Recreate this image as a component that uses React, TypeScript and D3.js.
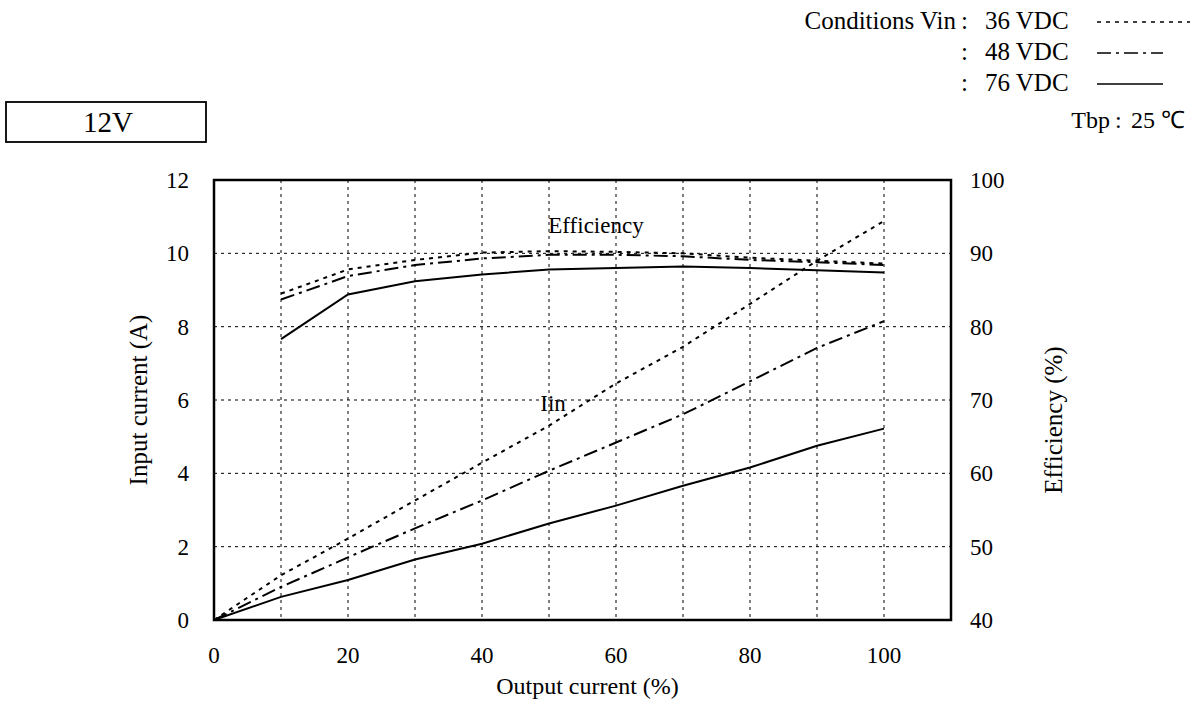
import React from "react";
import * as d3 from "d3";

const outputPct = [0, 10, 20, 30, 40, 50, 60, 70, 80, 90, 100];
const iin36 = [0, 1.22, 2.22, 3.26, 4.29, 5.3, 6.45, 7.45, 8.62, 9.8, 10.88];
const iin48 = [0, 0.9, 1.71, 2.5, 3.26, 4.07, 4.84, 5.61, 6.51, 7.42, 8.15];
const iin76 = [0, 0.63, 1.09, 1.65, 2.08, 2.63, 3.12, 3.66, 4.16, 4.75, 5.22];

const effPct = [10, 20, 30, 40, 50, 60, 70, 80, 90, 100];
const eff36 = [84.5, 87.8, 89.1, 90.1, 90.3, 90.2, 90.0, 89.4, 89.0, 88.6];
const eff48 = [83.7, 86.9, 88.4, 89.3, 89.8, 89.8, 89.6, 89.1, 88.8, 88.4];
const eff76 = [78.3, 84.4, 86.2, 87.1, 87.8, 88.0, 88.2, 88.0, 87.7, 87.4];

const xTicks = [0, 20, 40, 60, 80, 100];
const xGrid = [10, 20, 30, 40, 50, 60, 70, 80, 90, 100];
const yLeftTicks = [0, 2, 4, 6, 8, 10, 12];
const yRightTicks = [40, 50, 60, 70, 80, 90, 100];

const legendItems = ["36 VDC", "48 VDC", "76 VDC"];
const dash36 = "4,5";
const dash48 = "14,5,3,5";
const dash76 = "none";
const dashes = [dash36, dash48, dash76];
const legendLineEnds = [1190, 1163, 1163];

const FONT = "'Liberation Serif', 'Times New Roman', serif";

export default function App() {
  const W = 1199, H = 711;
  const L = 214, R = 951, T = 180, B = 620;
  const x = d3.scaleLinear().domain([0, 110]).range([L, R]);
  const yL = d3.scaleLinear().domain([0, 12]).range([B, T]);
  const yR = d3.scaleLinear().domain([40, 100]).range([B, T]);

  const lineI = d3.line<number>().x((_, i) => x(outputPct[i])).y((d) => yL(d));
  const lineE = d3.line<number>().x((_, i) => x(effPct[i])).y((d) => yR(d));

  const iinSeries = [iin36, iin48, iin76];
  const effSeries = [eff36, eff48, eff76];

  return (
    <svg width={W} height={H} style={{ position: "absolute", left: 0, top: 0, background: "#fff" }} fontFamily={FONT}>
      <rect x={0} y={0} width={W} height={H} fill="#fff" />
      {/* 12V box */}
      <rect x={6} y={102} width={200} height={40} fill="none" stroke="#000" strokeWidth={1.8} />
      <text x={108} y={132} textAnchor="middle" fontSize={29}>12V</text>

      {/* legend */}
      <text x={956} y={29} textAnchor="end" fontSize={25}>Conditions Vin</text>
      {legendItems.map((t, i) => (
        <g key={t}>
          <text x={961} y={29 + i * 31} fontSize={25}>:</text>
          <text x={985} y={29 + i * 31} fontSize={25}>{t}</text>
          <line x1={1097} x2={legendLineEnds[i]} y1={22 + i * 31} y2={22 + i * 31} stroke="#000" strokeWidth={1.5} strokeDasharray={dashes[i]} />
        </g>
      ))}
      <text x={1110} y={128} textAnchor="end" fontSize={24}>Tbp</text>
      <text x={1115} y={128} fontSize={24}>:</text>
      <text x={1131} y={128} fontSize={24}>25 ℃</text>

      {/* grid */}
      {yLeftTicks.filter((v) => v > 0 && v < 12).map((v) => (
        <line key={"h" + v} x1={L} x2={R} y1={yL(v)} y2={yL(v)} stroke="#000" strokeWidth={1} strokeDasharray="3,4" />
      ))}
      {xGrid.map((v) => (
        <line key={"v" + v} x1={x(v)} x2={x(v)} y1={T} y2={B} stroke="#000" strokeWidth={1} strokeDasharray="3,4" />
      ))}
      <rect x={L} y={T} width={R - L} height={B - T} fill="none" stroke="#000" strokeWidth={2.5} />

      {/* tick labels */}
      {yLeftTicks.map((v) => (
        <text key={"yl" + v} x={189} y={yL(v) + 8} textAnchor="end" fontSize={23}>{v}</text>
      ))}
      {yRightTicks.map((v) => (
        <text key={"yr" + v} x={970} y={yR(v) + 8} fontSize={23}>{v}</text>
      ))}
      {xTicks.map((v) => (
        <text key={"x" + v} x={x(v)} y={663} textAnchor="middle" fontSize={23}>{v}</text>
      ))}

      <text x={(L + R) / 2 + 5} y={694} textAnchor="middle" fontSize={24}>Output current (%)</text>
      <text transform={`translate(147,400) rotate(-90)`} textAnchor="middle" fontSize={25}>Input current (A)</text>
      <text transform={`translate(1062,420) rotate(-90)`} textAnchor="middle" fontSize={25}>Efficiency (%)</text>

      {/* series */}
      {iinSeries.map((s, i) => (
        <path key={"i" + i} d={lineI(s) || ""} fill="none" stroke="#000" strokeWidth={2} strokeDasharray={dashes[i]} />
      ))}
      {effSeries.map((s, i) => (
        <path key={"e" + i} d={lineE(s) || ""} fill="none" stroke="#000" strokeWidth={2} strokeDasharray={dashes[i]} />
      ))}

      <text x={596} y={233} textAnchor="middle" fontSize={23}>Efficiency</text>
      <text x={553} y={411} textAnchor="middle" fontSize={23}>Iin</text>
    </svg>
  );
}
